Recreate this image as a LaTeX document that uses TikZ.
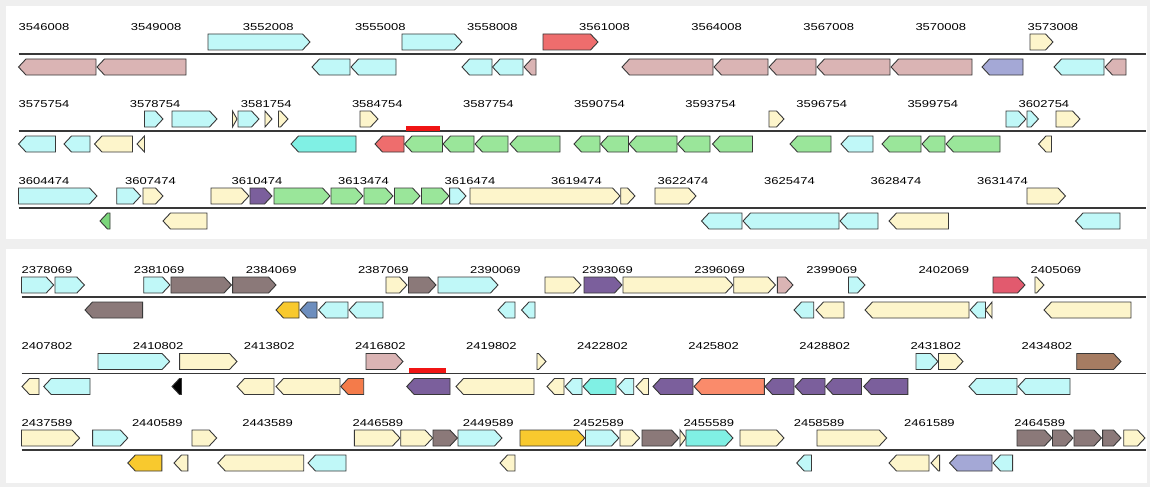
\documentclass[tikz,border=0pt]{standalone}
\usepackage{fontspec}
\usepackage{graphicx}
\newfontfamily\lblfont{Liberation Sans}
\definecolor{bgGray}{HTML}{EFEFEF}
\definecolor{edgeC}{HTML}{383838}
\definecolor{pinkG}{HTML}{DAB4B4}
\definecolor{cyanL}{HTML}{C0F8F8}
\definecolor{redG}{HTML}{EE6D6D}
\definecolor{yellowL}{HTML}{FDF5CB}
\definecolor{lavender}{HTML}{A4A8D6}
\definecolor{greenG}{HTML}{9AE69A}
\definecolor{greenD}{HTML}{7CD67C}
\definecolor{aqua}{HTML}{80F0E4}
\definecolor{purpleG}{HTML}{7B5F9C}
\definecolor{mauve}{HTML}{8B7979}
\definecolor{gold}{HTML}{F8C92E}
\definecolor{steel}{HTML}{6D8EBE}
\definecolor{orangeR}{HTML}{F47B4A}
\definecolor{salmon}{HTML}{FA8B6B}
\definecolor{crimson}{HTML}{E25A6E}
\definecolor{brownG}{HTML}{A67C62}
\definecolor{markRed}{HTML}{F01414}

\tikzset{
  gene/.style={draw=edgeC,line width=0.9pt,line join=miter},
  axisline/.style={draw=edgeC,line width=1.1pt},
  poslabel/.style={anchor=west,inner sep=0pt,text=black,font=\lblfont\fontsize{10}{11}\selectfont},
  hitbar/.style={fill=markRed},
}

% current row axis (y in px, downward)
\def\rowy{0}
% forward gene above the axis
\newcommand\genefwd[3]{%
  \pgfmathsetmacro\tipw{min(7.5,#2-#1)}%
  \pgfmathsetmacro\xbk{#2-\tipw}%
  \path[gene,fill=#3] (#1,\rowy-20) -- (\xbk,\rowy-20) -- (#2,\rowy-12)
     -- (\xbk,\rowy-4) -- (#1,\rowy-4) -- cycle;}
% reverse gene below the axis
\newcommand\generev[3]{%
  \pgfmathsetmacro\tipw{min(7.5,#2-#1)}%
  \pgfmathsetmacro\xbk{#1+\tipw}%
  \path[gene,fill=#3] (#2,\rowy+5) -- (\xbk,\rowy+5) -- (#1,\rowy+13)
     -- (\xbk,\rowy+21) -- (#2,\rowy+21) -- cycle;}
% coordinate labels of one row
\newcommand\rowlabels[3]{%
  \foreach \k in {0,...,9}{%
    \node[poslabel] (lab-\rowy-\k) at ({#1+#2*\k},\rowy-27)
      {\scalebox{1.3}[1]{\the\numexpr #3+3000*\k\relax}};}}

\begin{document}
\begin{tikzpicture}[x=1pt,y=-1pt]
\useasboundingbox (0,0) rectangle (1150,487);
\fill[bgGray] (0,0) rectangle (1150,487);
\fill[white] (6,6) rectangle (1147,239);
\fill[white] (6,249) rectangle (1147,483);

% ---------- upper panel, row 1 ----------
\def\rowy{54}
\draw[axisline] (18.5,\rowy) -- (1146,\rowy);
\rowlabels{18.5}{112.1}{3546008}
\foreach \xa/\xe/\col in {208/310/cyanL,402/462/cyanL,543/598/redG,1030/1053/yellowL}
  {\genefwd{\xa}{\xe}{\col}}
\foreach \xa/\xe/\col in {18.5/96/pinkG,97/186/pinkG,312/350/cyanL,351/396/cyanL,
  462/492/cyanL,492.5/523/cyanL,524/536/pinkG,622/713/pinkG,714/768/pinkG,
  769/816/pinkG,817/890/pinkG,891/972/pinkG,982/1023/lavender,1054/1104/cyanL,
  1105/1126/pinkG}
  {\generev{\xa}{\xe}{\col}}

% ---------- upper panel, row 2 ----------
\def\rowy{131}
\draw[axisline] (18.5,\rowy) -- (1146,\rowy);
\fill[hitbar] (406,\rowy-5.5) rectangle (440,\rowy-0.5);
\rowlabels{18.5}{111.1}{3575754}
\foreach \xa/\xe/\col in {144.5/163/cyanL,172/217/cyanL,232.5/237/yellowL,238/259/cyanL,
  265/272/yellowL,278.5/288/yellowL,360/378/yellowL,769/784/yellowL,1006/1026/cyanL,
  1027/1038.5/cyanL,1056/1080/yellowL}
  {\genefwd{\xa}{\xe}{\col}}
\foreach \xa/\xe/\col in {18.5/55.5/cyanL,64/90/cyanL,94.5/132.5/yellowL,137/144.5/yellowL,
  291/356/aqua,375/404/redG,404.5/442.5/greenG,443/474/greenG,475/508/greenG,
  510/560/greenG,574/600/greenG,600.5/628.5/greenG,629/677/greenG,677.5/710/greenG,
  712.5/752.5/greenG,790/831/greenG,841/873/cyanL,882/921/greenG,922/945/greenG,
  946/1000/greenG,1038.5/1051.5/yellowL}
  {\generev{\xa}{\xe}{\col}}

% ---------- upper panel, row 3 ----------
\def\rowy{208}
\draw[axisline] (18.5,\rowy) -- (1146,\rowy);
\rowlabels{18.5}{106.5}{3604474}
\foreach \xa/\xe/\col in {18.5/97/cyanL,116.7/140.7/cyanL,143/163/yellowL,211/249/yellowL,
  250/272/purpleG,274/330/greenG,331/363/greenG,364/393/greenG,394.5/420/greenG,
  421.5/449/greenG,449.6/466/cyanL,470/620/yellowL,620.7/635/yellowL,655/696/yellowL,
  1027/1065.5/yellowL}
  {\genefwd{\xa}{\xe}{\col}}
\foreach \xa/\xe/\col in {100/110/greenD,163/207/yellowL,701.5/742/cyanL,743/839/cyanL,
  840/878/cyanL,889/948.5/yellowL,1075.5/1120/cyanL}
  {\generev{\xa}{\xe}{\col}}

% ---------- lower panel, row 1 ----------
\def\rowy{297}
\draw[axisline] (21.5,\rowy) -- (1146,\rowy);
\rowlabels{21.5}{112.1}{2378069}
\foreach \xa/\xe/\col in {21.5/53.7/cyanL,55/84.4/cyanL,143.7/170/cyanL,171/231.5/mauve,
  232.6/276/mauve,386/407/yellowL,408.5/436/mauve,438/498/cyanL,545/581/yellowL,
  584/622/purpleG,623/733/yellowL,733.7/775.5/yellowL,777.4/793/pinkG,848.5/865/cyanL,
  993/1025/crimson,1035/1044/yellowL}
  {\genefwd{\xa}{\xe}{\col}}
\foreach \xa/\xe/\col in {85/142.6/mauve,276/299/gold,300/317/steel,318.5/348/cyanL,
  349/383/cyanL,498/515/cyanL,521.5/535/cyanL,794/813.7/cyanL,816/844/yellowL,
  865/969/yellowL,970/985.5/cyanL,985.5/992/yellowL,1044/1131/yellowL}
  {\generev{\xa}{\xe}{\col}}

% ---------- lower panel, row 2 ----------
\def\rowy{373.5}
\draw[axisline] (21.5,\rowy) -- (1146,\rowy);
\fill[hitbar] (409,\rowy-5.5) rectangle (446,\rowy-0.5);
\rowlabels{21.5}{111.1}{2407802}
\foreach \xa/\xe/\col in {98/169.6/cyanL,179.6/237/yellowL,366/403/pinkG,537/546/yellowL,
  916/938/cyanL,938.5/963/yellowL,1076.7/1121/brownG}
  {\genefwd{\xa}{\xe}{\col}}
\foreach \xa/\xe/\col in {22/39/yellowL,43.7/90/cyanL,172/181.5/black,237/274/yellowL,
  276/340/yellowL,340.7/363.7/orangeR,406.7/450/purpleG,456/534/yellowL,547/564/yellowL,
  565/582/cyanL,583/616/aqua,617.4/633.7/cyanL,636/648.5/yellowL,653/693/purpleG,
  694/764.4/salmon,765/794/purpleG,795/825/purpleG,825.5/861.5/purpleG,
  863.7/907.8/purpleG,969/1017/cyanL,1018/1070/cyanL}
  {\generev{\xa}{\xe}{\col}}

% ---------- lower panel, row 3 ----------
\def\rowy{450}
\draw[axisline] (21.5,\rowy) -- (1146,\rowy);
\rowlabels{21.5}{110.3}{2437589}
\foreach \xa/\xe/\col in {21.5/79.6/yellowL,92.6/127.8/cyanL,192/216.7/yellowL,
  354.4/400/yellowL,400.7/432.6/yellowL,433/457.4/mauve,458/502/cyanL,520/584.8/gold,
  585.5/619/cyanL,620/639.6/yellowL,642/679/mauve,680/686/yellowL,686/733/aqua,
  740/784/yellowL,817/886.7/yellowL,1017/1052/mauve,1052.5/1073/mauve,
  1074/1101.5/mauve,1102.6/1121/mauve,1123.7/1145/yellowL}
  {\genefwd{\xa}{\xe}{\col}}
\foreach \xa/\xe/\col in {127.8/161.9/gold,174/187.8/yellowL,217.8/303.7/yellowL,
  308/346/cyanL,500/515/yellowL,796.7/811.5/cyanL,889/929/yellowL,931/939.6/yellowL,
  949.6/992/lavender,993/1012.6/cyanL}
  {\generev{\xa}{\xe}{\col}}
\end{tikzpicture}
\end{document}
